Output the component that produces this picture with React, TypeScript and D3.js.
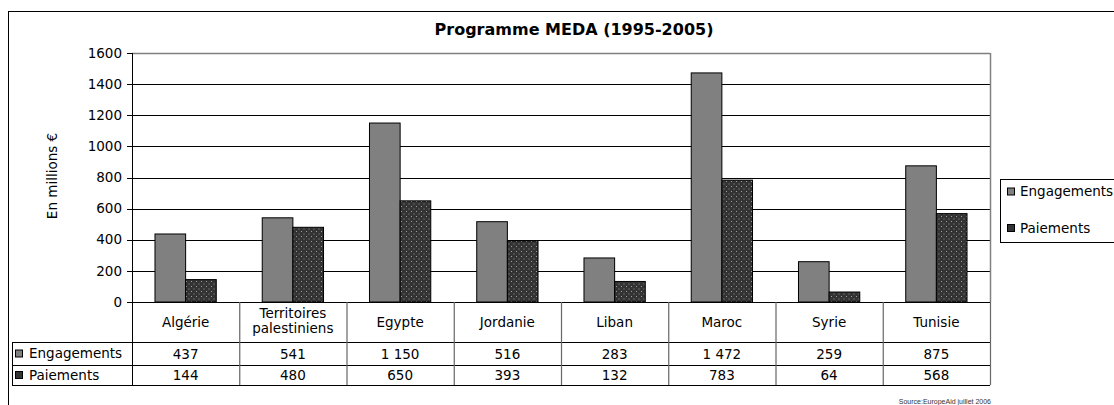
import React from "react";
import * as d3 from "d3";

const categories = ["Algérie", "Territoires\npalestiniens", "Egypte", "Jordanie", "Liban", "Maroc", "Syrie", "Tunisie"];
const engagements = [437, 541, 1150, 516, 283, 1472, 259, 875];
const paiements = [144, 480, 650, 393, 132, 783, 64, 568];
const engagementsLabels = ["437", "541", "1 150", "516", "283", "1 472", "259", "875"];
const paiementsLabels = ["144", "480", "650", "393", "132", "783", "64", "568"];
const yTicks = [0, 200, 400, 600, 800, 1000, 1200, 1400, 1600];
const seriesNames = ["Engagements", "Paiements"];

const FONT = "'DejaVu Sans', Verdana, sans-serif";

export default function App() {
  const left = 132, right = 990, top = 53, bottom = 302;
  const x = d3.scaleBand<string>().domain(categories).range([left, right]).paddingInner(0).paddingOuter(0);
  const y = d3.scaleLinear().domain([0, 1600]).range([bottom, top]);
  const bw = x.bandwidth() / 3.5;
  const row1 = 342, row2 = 365, row3 = 385, tableLeft = 12;
  const fs = 13.5;

  const fills = ["#808080", "url(#dots)"];
  const data = [engagements, paiements];
  const rowLabels = [engagementsLabels, paiementsLabels];

  return (
    <svg width={1114} height={405} style={{ position: "absolute", left: 0, top: 0, background: "#fff" }} fontFamily={FONT}>
      <defs>
        <pattern id="dots" width={5} height={5} patternUnits="userSpaceOnUse">
          <rect width={5} height={5} fill="#333" />
          <rect x={1} y={1} width={1} height={1} fill="#a0a0a0" />
          <rect x={3.5} y={3.5} width={1} height={1} fill="#909090" />
        </pattern>
      </defs>
      {/* outer chart border */}
      <rect x={8.5} y={11.5} width={1120} height={420} fill="none" stroke="#000" strokeWidth={1} />
      <text x={574} y={35} textAnchor="middle" fontSize={16} fontWeight="bold">Programme MEDA (1995-2005)</text>

      {/* gridlines */}
      {yTicks.filter(t => t > 0 && t < 1600).map(t => (
        <line key={t} x1={left} x2={right} y1={Math.round(y(t)) + 0.5} y2={Math.round(y(t)) + 0.5} stroke="#000" strokeWidth={1} />
      ))}
      <line x1={left} x2={right} y1={top + 0.5} y2={top + 0.5} stroke="#808080" strokeWidth={1.5} />
      <line x1={right + 0.5} x2={right + 0.5} y1={top} y2={bottom} stroke="#808080" strokeWidth={1.5} />

      {/* bars */}
      {data.map((series, si) =>
        series.map((v, i) => {
          const cx = (x(categories[i]) as number) + x.bandwidth() / 2;
          const bx = cx - bw + si * bw;
          return (
            <rect key={si + "-" + i} x={bx} y={y(v)} width={bw} height={bottom - y(v)} fill={fills[si]} stroke="#000" strokeWidth={1} />
          );
        })
      )}

      {/* y axis */}
      <line x1={left + 0.5} x2={left + 0.5} y1={top} y2={row3} stroke="#000" strokeWidth={1} />
      {yTicks.map(t => (
        <g key={t}>
          <line x1={left - 5} x2={left} y1={Math.round(y(t)) + 0.5} y2={Math.round(y(t)) + 0.5} stroke="#000" />
          <text x={122} y={y(t) + 4.7} textAnchor="end" fontSize={fs}>{t}</text>
        </g>
      ))}
      <text transform={`translate(57,176) rotate(-90)`} textAnchor="middle" fontSize={fs}>En millions €</text>

      {/* data table */}
      <line x1={left} x2={right} y1={bottom + 0.5} y2={bottom + 0.5} stroke="#000" />
      <line x1={tableLeft} x2={right} y1={row1 + 0.5} y2={row1 + 0.5} stroke="#000" />
      <line x1={tableLeft} x2={right} y1={row2 + 0.5} y2={row2 + 0.5} stroke="#000" />
      <line x1={tableLeft} x2={right} y1={row3 + 0.5} y2={row3 + 0.5} stroke="#000" />
      <line x1={tableLeft + 0.5} x2={tableLeft + 0.5} y1={row1} y2={row3} stroke="#000" />
      {categories.map((c, i) => {
        const bx = x(c) as number;
        return <line key={"v" + i} x1={bx + x.bandwidth() + 0.5} x2={bx + x.bandwidth() + 0.5} y1={bottom} y2={row3} stroke="#666" strokeWidth={1.2} />;
      })}
      {categories.map((c, i) => {
        const cx = (x(c) as number) + x.bandwidth() / 2;
        const lines = c.split("\n");
        return (
          <g key={"c" + i}>
            {lines.length === 1 ? (
              <text x={cx} y={327} textAnchor="middle" fontSize={fs}>{c}</text>
            ) : (
              lines.map((l, li) => (
                <text key={li} x={cx} y={318 + li * 15} textAnchor="middle" fontSize={fs}>{l}</text>
              ))
            )}
            {rowLabels.map((rl, ri) => (
              <text key={ri} x={cx} y={ri === 0 ? 358.5 : 380} textAnchor="middle" fontSize={fs}>{rl[i]}</text>
            ))}
          </g>
        );
      })}
      {seriesNames.map((s, si) => {
        const yc = si === 0 ? 353.5 : 375;
        return (
          <g key={"rl" + si}>
            <rect x={15.5} y={yc - 3.5} width={7} height={7} fill={si === 0 ? "#808080" : "#333"} stroke="#000" />
            <text x={29} y={yc + 4.7} fontSize={fs}>{s}</text>
          </g>
        );
      })}

      {/* legend */}
      <rect x={1000.5} y={179.5} width={140} height={63} fill="#fff" stroke="#000" />
      {seriesNames.map((s, si) => {
        const yc = si === 0 ? 191.5 : 228;
        return (
          <g key={"lg" + si}>
            <rect x={1007.5} y={yc - 3.5} width={7} height={7} fill={si === 0 ? "#808080" : "#333"} stroke="#000" />
            <text x={1020} y={yc + 4.7} fontSize={fs}>{s}</text>
          </g>
        );
      })}

      <text x={991} y={404} textAnchor="end" fontSize={7} fill="#333" fontFamily="'Liberation Sans', Arial, sans-serif">Source:EuropeAid juillet 2006</text>
    </svg>
  );
}
